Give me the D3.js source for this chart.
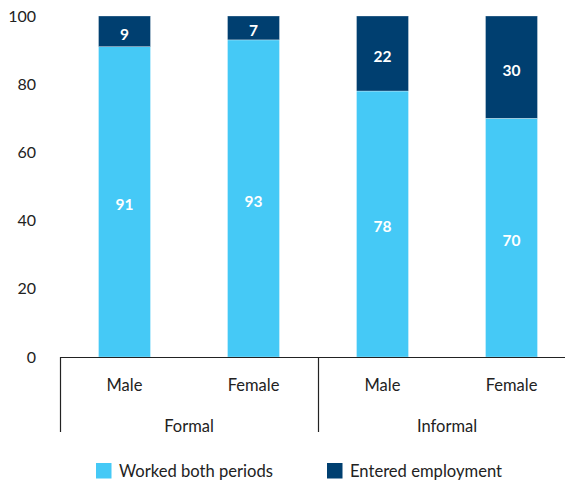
<!DOCTYPE html>
<html><head><meta charset="utf-8">
<script src="https://cdn.jsdelivr.net/npm/d3@7"></script>
<style>body{margin:0;background:#fff}svg{display:block}text{font-family:Lato,"Open Sans",sans-serif}</style>
</head><body>
<svg id="c" width="565" height="485"></svg>
<script>
const categories = ["Male","Female","Male","Female"];
const groups = ["Formal","Informal"];
const workedBoth = [91,93,78,70];
const entered = [9,7,22,30];
const yTicks = [0,20,40,60,80,100];
const seriesNames = ["Worked both periods","Entered employment"];
const colors = ["#45c9f6","#003f70"];

const svg = d3.select("#c");
const x = d3.scaleBand().domain(d3.range(categories.length)).range([60,576]).paddingInner(0.597).paddingOuter(0.2985);
const y = d3.scaleLinear().domain([0,100]).range([357,16]);

// y tick labels
svg.append("g").selectAll("text").data(yTicks).join("text")
  .attr("x",36).attr("y",d=>y(d)).attr("dy","0.35em").attr("text-anchor","end")
  .attr("font-size",16).attr("fill","#222").text(d=>d);

const stack = categories.map((c,i)=>[[0,workedBoth[i]],[workedBoth[i],workedBoth[i]+entered[i]]]);
stack.forEach((segs,i)=>{
  segs.forEach((s,k)=>{
    svg.append("rect").attr("x",x(i)).attr("width",x.bandwidth())
      .attr("y",y(s[1])).attr("height",y(s[0])-y(s[1]))
      .attr("fill",colors[k]).attr("stroke","#ffffff").attr("stroke-opacity",0.5).attr("stroke-width",0.6);
    svg.append("text").attr("x",x(i)+x.bandwidth()/2).attr("y",(y(s[0])+y(s[1]))/2+3)
      .attr("dy","0.35em").attr("text-anchor","middle").attr("font-size",15.5).attr("font-weight","bold")
      .attr("fill","#fff").text(s[1]-s[0]);
  });
});

// axis lines
const ax = svg.append("g").attr("stroke","#222").attr("stroke-width",1.2);
ax.append("line").attr("x1",60).attr("x2",565).attr("y1",357.5).attr("y2",357.5);
[60,318].forEach(xx=>ax.append("line").attr("x1",xx+0.5).attr("x2",xx+0.5).attr("y1",357).attr("y2",432));

// category labels
svg.append("g").selectAll("text").data(categories).join("text")
  .attr("x",(d,i)=>x(i)+x.bandwidth()/2).attr("y",385).attr("dy","0.35em")
  .attr("text-anchor","middle").attr("font-size",16.5).attr("fill","#222").text(d=>d);
// group labels
svg.append("g").selectAll("text").data(groups).join("text")
  .attr("x",(d,i)=>(x(i*2)+x(i*2+1)+x.bandwidth())/2).attr("y",426).attr("dy","0.35em")
  .attr("text-anchor","middle").attr("font-size",16.5).attr("fill","#222").text(d=>d);

// legend
const lx = [96,327];
const lg = svg.append("g").selectAll("g").data(seriesNames).join("g")
  .attr("transform",(d,i)=>`translate(${lx[i]},463)`);
lg.append("rect").attr("width",15.5).attr("height",15.5).attr("fill",(d,i)=>colors[i]);
lg.append("text").attr("x",23).attr("y",8).attr("dy","0.35em").attr("font-size",16.6).attr("fill","#222").text(d=>d);
</script>
</body></html>
